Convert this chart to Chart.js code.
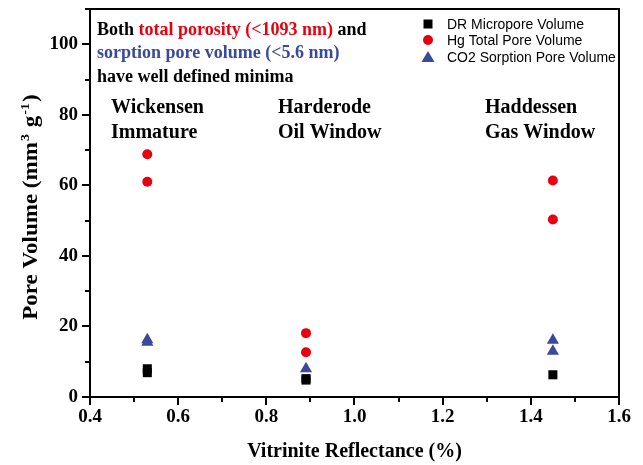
<!DOCTYPE html>
<html>
<head>
<meta charset="utf-8">
<script src="https://cdn.jsdelivr.net/npm/chart.js@4/dist/chart.umd.min.js"></script>
<style>
html,body{margin:0;padding:0;background:#fff;}
canvas{display:block;}
</style>
</head>
<body>
<canvas id="c" width="643" height="465"></canvas>
<script>
// ---- data ----
const drX = [0.53, 0.53, 0.89, 0.89, 1.45];
const drY = [8.0, 6.9, 5.2, 4.8, 6.3];
const hgX = [0.53, 0.53, 0.89, 0.89, 1.45, 1.45];
const hgY = [68.8, 61.0, 18.1, 12.7, 61.4, 50.3];
const co2X = [0.53, 0.53, 0.89, 1.45, 1.45];
const co2Y = [16.2, 15.5, 8.0, 16.1, 13.0];
const seriesNames = ['DR Micropore Volume', 'Hg Total Pore Volume', 'CO2 Sorption Pore Volume'];
const xRange = [0.4, 1.6];
const yRange = [0, 110];
const xMajor = 0.2, xMinor = 0.1, yMajor = 20, yMinor = 10;
const xTitle = 'Vitrinite Reflectance (%)';
const siteNames = [['Wickensen', 'Immature'], ['Harderode', 'Oil Window'], ['Haddessen', 'Gas Window']];
const noteLines = [
  [['Both ', 'k'], ['total porosity (<1093 nm)', 'r'], [' and', 'k']],
  [['sorption pore volume (<5.6 nm)', 'b']],
  [['have well defined minima', 'k']]
];

const RED = '#e8000f', BLUE = '#3a4a9a', BLACK = '#000';
const toPts = (xs, ys) => xs.map((x, i) => ({x: x, y: ys[i]}));

const serif = '"Liberation Serif", "Times New Roman", serif';
const sans = '"Liberation Sans", Arial, sans-serif';

const decor = {
  id: 'decor',
  afterDraw(chart) {
    const ctx = chart.ctx, a = chart.chartArea;
    const xs = chart.scales.x, ys = chart.scales.y;
    ctx.save();
    ctx.strokeStyle = BLACK; ctx.lineWidth = 2;
    ctx.beginPath();
    ctx.moveTo(a.left, a.top); ctx.lineTo(a.right, a.top); ctx.lineTo(a.right, a.bottom);
    ctx.stroke();
    // ticks
    const nx = Math.round((xRange[1] - xRange[0]) / xMinor);
    for (let i = 0; i <= nx; i++) {
      const v = xRange[0] + i * xMinor;
      const px = Math.round(xs.getPixelForValue(v));
      const len = (i % Math.round(xMajor / xMinor) === 0) ? 8 : 5;
      ctx.beginPath(); ctx.moveTo(px, a.bottom); ctx.lineTo(px, a.bottom + len); ctx.stroke();
    }
    const ny = Math.round((yRange[1] - yRange[0]) / yMinor);
    for (let i = 0; i <= ny; i++) {
      const v = yRange[0] + i * yMinor;
      const py = Math.round(ys.getPixelForValue(v));
      const len = (i % Math.round(yMajor / yMinor) === 0) ? 8 : 5;
      ctx.beginPath(); ctx.moveTo(a.left, py); ctx.lineTo(a.left - len, py); ctx.stroke();
    }
    // y title with superscripts
    ctx.save();
    ctx.translate(30, 207);
    ctx.rotate(-Math.PI / 2);
    ctx.scale(1.15, 1);
    const parts = [['Pore Volume (mm', 0], ['3', 1], [' g', 0], ['-1', 1], [')', 0]];
    const bigF = 'bold 20px ' + serif, smallF = 'bold 12px ' + serif;
    let w = 0;
    parts.forEach(p => { ctx.font = p[1] ? smallF : bigF; w += ctx.measureText(p[0]).width + (p[1] ? 2 : 0); });
    let x = -w / 2;
    ctx.fillStyle = BLACK; ctx.textBaseline = 'alphabetic'; ctx.textAlign = 'left';
    parts.forEach(p => {
      ctx.font = p[1] ? smallF : bigF;
      ctx.fillText(p[0], x + (p[1] ? 1 : 0), p[1] ? -1 : 7);
      x += ctx.measureText(p[0]).width + (p[1] ? 2 : 0);
    });
    ctx.restore();
    // note text
    ctx.font = 'bold 18px ' + serif;
    const base = [35, 58, 82];
    noteLines.forEach((line, li) => {
      let tx = 97;
      line.forEach(seg => {
        ctx.fillStyle = seg[1] === 'r' ? RED : (seg[1] === 'b' ? BLUE : BLACK);
        ctx.fillText(seg[0], tx, base[li]);
        tx += ctx.measureText(seg[0]).width;
      });
    });
    // site labels
    ctx.font = 'bold 20px ' + serif; ctx.fillStyle = BLACK;
    const sx = [111, 278, 485];
    siteNames.forEach((s, i) => { ctx.fillText(s[0], sx[i], 113); ctx.fillText(s[1], sx[i], 138); });
    // legend
    const ly = [24, 40, 57];
    ctx.font = '14px ' + sans; ctx.textBaseline = 'middle';
    chart.data.datasets.forEach((ds, i) => {
      const cx = 428, cy = ly[i];
      ctx.fillStyle = ds.backgroundColor;
      ctx.beginPath();
      if (ds.pointStyle === 'rect') { ctx.rect(cx - 4.5, cy - 4.5, 9, 9); }
      else if (ds.pointStyle === 'circle') { ctx.arc(cx, cy, 5, 0, Math.PI * 2); }
      else { ctx.moveTo(cx, cy - 6); ctx.lineTo(cx + 6.5, cy + 5); ctx.lineTo(cx - 6.5, cy + 5); ctx.closePath(); }
      ctx.fill();
      ctx.fillStyle = BLACK;
      ctx.fillText(ds.label, 447, cy + 1);
    });
    ctx.restore();
  }
};

new Chart(document.getElementById('c'), {
  type: 'scatter',
  data: {
    datasets: [
      {label: seriesNames[0], data: toPts(drX, drY), pointStyle: 'rect', pointRadius: 6.4, backgroundColor: BLACK, borderColor: BLACK, borderWidth: 0},
      {label: seriesNames[1], data: toPts(hgX, hgY), pointStyle: 'circle', pointRadius: 5, backgroundColor: RED, borderColor: RED, borderWidth: 0},
      {label: seriesNames[2], data: toPts(co2X, co2Y), pointStyle: 'triangle', pointRadius: 7, backgroundColor: BLUE, borderColor: BLUE, borderWidth: 0}
    ]
  },
  options: {
    responsive: false,
    animation: false,
    devicePixelRatio: 1,
    layout: {padding: {left: 0, top: 9, right: 24, bottom: 0}},
    plugins: {legend: {display: false}, tooltip: {enabled: false}},
    scales: {
      x: {
        type: 'linear', min: xRange[0], max: xRange[1],
        grid: {display: false},
        border: {display: true, color: BLACK, width: 2},
        ticks: {stepSize: xMajor, includeBounds: false, padding: 1, color: BLACK,
          font: {family: serif, size: 19, weight: 'bold'},
          callback: v => Number(v).toFixed(1)},
        title: {display: true, text: xTitle, color: BLACK, font: {family: serif, size: 20, weight: 'bold'}, padding: {top: 0, bottom: 1}},
        afterFit: s => { s.height = 68; s.paddingLeft = 0; s.paddingRight = 0; }
      },
      y: {
        type: 'linear', min: yRange[0], max: yRange[1],
        grid: {display: false},
        border: {display: true, color: BLACK, width: 2},
        ticks: {stepSize: yMajor, includeBounds: false, padding: 4, color: BLACK,
          font: {family: serif, size: 19, weight: 'bold'}},
        title: {display: false},
        afterFit: s => { s.width = 90; s.paddingTop = 0; s.paddingBottom = 0; }
      }
    }
  },
  plugins: [decor]
});
</script>
</body>
</html>
